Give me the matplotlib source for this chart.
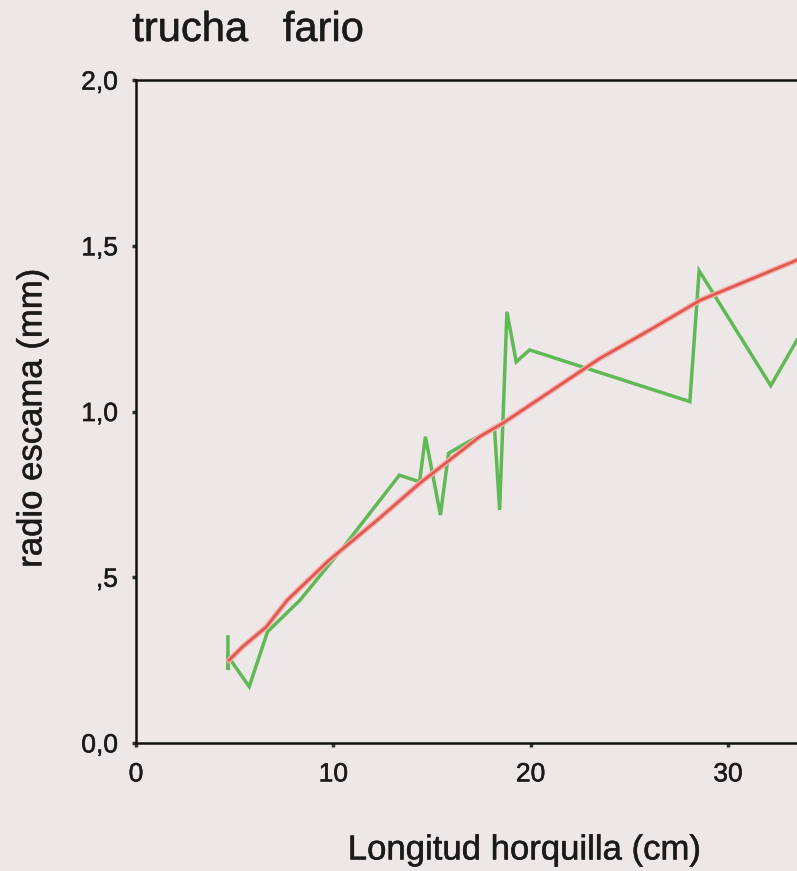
import matplotlib
matplotlib.use("Agg")
import matplotlib.pyplot as plt
import matplotlib.patheffects as pe

# longitud horquilla (cm) vs radio de escama (mm), trucha fario
obs_x = [4.66, 4.67, 4.68, 5.74, 6.67, 8.3, 10.5, 13.35, 14.37, 14.67, 15.43, 15.84,
         16.7, 18.17, 18.43, 18.8, 19.27, 19.95, 28.07, 28.54, 32.17, 33.5]
obs_y = [0.32, 0.22, 0.26, 0.17, 0.336, 0.43, 0.59, 0.808, 0.788, 0.924, 0.688, 0.874,
         0.904, 0.950, 0.703, 1.301, 1.150, 1.186, 1.03, 1.425, 1.078, 1.216]

# curva ajustada
fit_x = [4.72, 5.4, 6.6, 7.67, 9.8, 12.34, 14.37, 17.41, 18.6, 23.5, 26.04, 28.6, 33.5]
fit_y = [0.25, 0.29, 0.35, 0.431, 0.552, 0.678, 0.783, 0.924, 0.965, 1.16, 1.246, 1.336, 1.457]

yticks = [0.0, 0.5, 1.0, 1.5, 2.0]
ytick_labels = ["0,0", ",5", "1,0", "1,5", "2,0"]
xticks = [0, 10, 20, 30]

plt.rcParams['font.family'] = ['Liberation Sans', 'DejaVu Sans']
ink = [pe.withStroke(linewidth=0.4, foreground='#2a2a2a')]

fig = plt.figure(figsize=(7.97, 8.71), dpi=100)
fig.patch.set_facecolor('#ede7e7')
ax = fig.add_axes([0.1706, 0.147, 0.8294, 0.761])
ax.set_facecolor('#ede7e7')

ax.plot(obs_x, obs_y, color='#5fb955', lw=2.5, solid_joinstyle='miter', zorder=3)
ax.plot(fit_x, fit_y, color='#f3b0ac', lw=4.0, zorder=4)
ax.plot(fit_x, fit_y, color='#e0584f', lw=2.0, zorder=5)

ax.set_xlim(0, 33.5)
ax.set_ylim(0, 2.0)
ax.set_xticks(xticks)
ax.set_xticklabels([str(t) for t in xticks])
ax.set_yticks(yticks)
ax.set_yticklabels(ytick_labels)

ax.spines['right'].set_visible(False)
for s in ['left', 'bottom', 'top']:
    ax.spines[s].set_linewidth(1.8)
    ax.spines[s].set_color('#111111')

ax.tick_params(axis='both', direction='out', length=3, width=2.5, color='#333333',
               labelsize=19, labelcolor='#1a1a1a')
ax.tick_params(axis='y', pad=10)
ax.tick_params(axis='x', pad=11)
for lab in ax.get_xticklabels() + ax.get_yticklabels():
    lab.set_path_effects(ink)

ax.set_xlabel('Longitud horquilla (cm)', fontsize=25, color='#1a1a1a',
              path_effects=ink)
ax.xaxis.set_label_coords((525 - 137) / 660, -(850 - 743) / 663)
ax.xaxis.label.set_va('center')
ax.set_ylabel('radio escama (mm)', fontsize=25, color='#1a1a1a', path_effects=ink)
ax.yaxis.set_label_coords(-(137 - 33) / 660, (743 - 418) / 663)
ax.yaxis.label.set_va('center')

fig.text(0.166, 1 - 30 / 871, 'trucha   fario', fontsize=30, color='#1a1a1a',
         ha='left', va='center', path_effects=ink)

fig.savefig('out.png', dpi=100, facecolor=fig.get_facecolor())
